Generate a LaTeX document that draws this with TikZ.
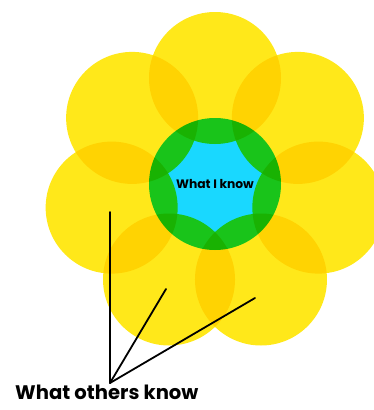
\documentclass[tikz,border=0pt]{standalone}
\usepackage{fontspec}
\setmainfont{Poppins}
\begin{document}
\begin{tikzpicture}[x=1pt, y=-1pt,
    petal/.style={fill=petalyellow, draw=none},
    core/.style={circle, fill=corecyan, minimum size=132pt, inner sep=0pt, font=\bfseries\fontsize{12.3}{14}\selectfont},
    lbl/.style={font=\bfseries\fontsize{19.6}{22}\selectfont, inner sep=0pt},
    pointer/.style={line width=1.8pt, line cap=round}]
  \definecolor{petalyellow}{RGB}{255,232,26}
  \definecolor{corecyan}{RGB}{25,216,255}
  \useasboundingbox (0,0) rectangle (374,410);
  % ---- flower: centre and seven petals -------------------------------------
  \begin{scope}[blend group=multiply]
    \node[core] (know) at (215,184) {What I know};
    \foreach \i in {0,...,6} {
      \fill[petal, shift={(know.center)}] ({-90+\i*360/7}:106) circle (66);}
  \end{scope}
  % ---- label and pointers --------------------------------------------------
  \node[lbl, anchor=base west] (others) at (15,399) {What others know};
  \coordinate (apex) at (110,383);
  \coordinate (tipA) at (110,212);
  \coordinate (tipB) at (166,289);
  \coordinate (tipC) at (255,298);
  \draw[pointer] (tipA) -- (apex);
  \draw[pointer] (apex) -- (tipB);
  \draw[pointer] (apex) -- (tipC);
\end{tikzpicture}
\end{document}
